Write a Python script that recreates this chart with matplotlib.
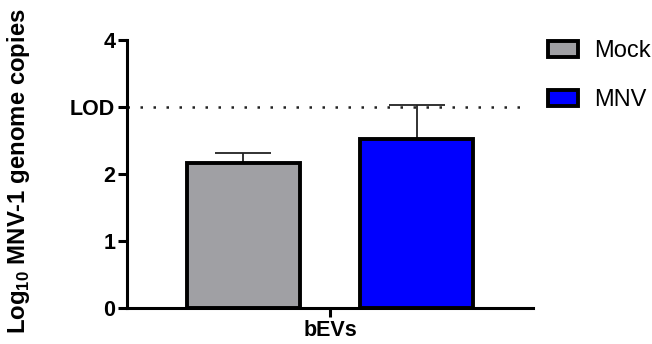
import matplotlib.pyplot as plt
import numpy as np

plt.rcParams['font.family'] = ['Liberation Sans', 'DejaVu Sans']
plt.rcParams['mathtext.fontset'] = 'custom'
plt.rcParams['mathtext.rm'] = 'Liberation Sans'
plt.rcParams['mathtext.bf'] = 'Liberation Sans:bold'

groups = ['Mock', 'MNV']
means = [2.17, 2.52]
sem = [0.14, 0.51]
colors = ['#a0a0a4', '#0000ff']
lod = 3.0
yticks = [0, 1, 2, 3, 4]
yticklabels = ['0', '1', '2', 'LOD', '4']
category = 'bEVs'

fig = plt.figure(figsize=(6.52, 3.44), dpi=100)
ax = fig.add_axes([0.1948, 0.104, 0.6227, 0.779])

pos = np.array([-0.77, 0.77])
for p, m, e, c, g in zip(pos, means, sem, colors, groups):
    ax.bar(p, m, width=1.0, color=c, edgecolor='black', linewidth=2.8, label=g, zorder=2)
    ax.errorbar(p, m, yerr=[[0], [e]], fmt='none', ecolor='#222222',
                elinewidth=1.3, capsize=20.5, capthick=1.3, zorder=1)

# limit of detection
ax.axhline(lod, xmin=0, xmax=0.98, color='#222222', linestyle=(0, (1, 4.2)), linewidth=1.8, zorder=0)

ax.set_xlim(-1.8, 1.8)
ax.set_ylim(0, 4)
ax.set_xticks([0])
ax.set_xticklabels([category], fontsize=15.5, fontweight='bold')
ax.set_yticks(yticks)
ax.set_yticklabels(yticklabels, fontsize=15.5, fontweight='bold')
ax.tick_params(axis='both', width=2.2, length=6.5, pad=2)
for s in ['top', 'right']:
    ax.spines[s].set_visible(False)
for s in ['left', 'bottom']:
    ax.spines[s].set_linewidth(2.2)

ax.set_ylabel('Log$_{\\mathbf{10}}$ MNV-1 genome copies', fontsize=17.2, fontweight='bold')
ax.yaxis.set_label_coords(-0.235, 0.51)

ax.legend(loc='upper left', bbox_to_anchor=(1.037, 1.0), frameon=False, fontsize=17,
          borderaxespad=0, borderpad=0,
          handlelength=1.25, handleheight=0.65, labelspacing=1.15, handletextpad=0.7)

fig.savefig('out.png', dpi=100)
